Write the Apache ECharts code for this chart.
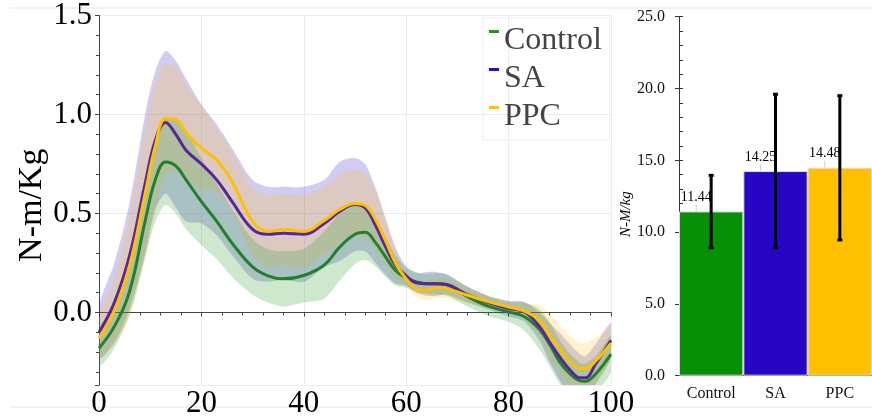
<!DOCTYPE html>
<html>
<head>
<meta charset="utf-8">
<script src="https://cdn.jsdelivr.net/npm/echarts@6/dist/echarts.min.js"></script>
<style>
html,body{margin:0;padding:0;background:#fff}
#chart{width:872px;height:419px}
</style>
</head>
<body>
<div id="chart"></div>
<script>
// gait cycle (%) sample points
var xs = [0,3,6,9,11,13,15,17,20,23,26,30,33,36,40,44,47,50,52,54,56,58,60,62,64,66,68,72,76,80,83,86,88,90,92,94,95,97,100];

var controlMean = [-0.18,-0.07,0.11,0.46,0.67,0.76,0.74,0.67,0.56,0.46,0.35,0.23,0.185,0.17,0.187,0.24,0.33,0.395,0.405,0.353,0.28,0.21,0.175,0.155,0.145,0.145,0.14,0.08,0.032,0.003,-0.02,-0.085,-0.16,-0.25,-0.31,-0.345,-0.347,-0.31,-0.21];
var controlSd = [0.09,0.11,0.12,0.19,0.21,0.217,0.24,0.25,0.22,0.19,0.17,0.14,0.135,0.14,0.135,0.17,0.17,0.15,0.14,0.12,0.1,0.075,0.05,0.05,0.05,0.055,0.055,0.05,0.05,0.05,0.07,0.1,0.11,0.11,0.1,0.09,0.09,0.09,0.09];

var saMean = [-0.10,0.05,0.29,0.65,0.87,0.96,0.90,0.82,0.75,0.67,0.56,0.42,0.395,0.40,0.395,0.45,0.51,0.545,0.528,0.44,0.33,0.235,0.185,0.15,0.145,0.145,0.14,0.09,0.05,0.02,0.005,-0.07,-0.15,-0.225,-0.29,-0.33,-0.33,-0.26,-0.14];
var saSd = [0.13,0.2,0.27,0.35,0.35,0.36,0.37,0.36,0.30,0.28,0.27,0.25,0.24,0.235,0.24,0.22,0.25,0.235,0.22,0.19,0.14,0.09,0.05,0.05,0.06,0.06,0.05,0.04,0.035,0.04,0.05,0.07,0.1,0.12,0.13,0.12,0.11,0.1,0.085];

var ppcMean = [-0.13,0.01,0.24,0.60,0.84,0.98,0.975,0.91,0.83,0.77,0.66,0.46,0.41,0.42,0.41,0.465,0.52,0.55,0.54,0.47,0.36,0.245,0.17,0.12,0.112,0.125,0.12,0.087,0.055,0.028,0.008,-0.04,-0.115,-0.185,-0.25,-0.283,-0.283,-0.245,-0.155];
var ppcSd = [0.1,0.17,0.25,0.32,0.32,0.28,0.26,0.24,0.21,0.16,0.15,0.17,0.18,0.18,0.185,0.17,0.175,0.17,0.16,0.15,0.12,0.07,0.035,0.04,0.05,0.05,0.05,0.04,0.03,0.03,0.04,0.075,0.11,0.12,0.13,0.13,0.13,0.12,0.075];

// bar panel
var groups = ["Control","SA","PPC"];
var barValues = [11.44,14.25,14.48];
var errLow = [8.91,8.91,9.45];
var errHigh = [13.95,19.6,19.5];

var barColors = ["#078f07","#2706c3","#ffc000"];
var font = "Liberation Serif";

function pairs(a){ return xs.map(function(x,i){ return [x,a[i]]; }); }

// shaded mean +/- sd region, drawn as one polygon through the axis scales
function band(name, mean, sd, color){
    return {
        name:name, type:"custom", xAxisIndex:0, yAxisIndex:0, clip:true, silent:true, z:1,
        data:[[0,0]],
        renderItem:function(params, api){
            var pts = [], i;
            for(i=0;i<xs.length;i++) pts.push(api.coord([xs[i], mean[i]+sd[i]]));
            for(i=xs.length-1;i>=0;i--) pts.push(api.coord([xs[i], mean[i]-sd[i]]));
            return {type:"polygon", shape:{points:pts, smooth:0.3}, style:{fill:color}};
        }
    };
}

function meanLine(name, mean, color){
    return {name:name, type:"line", data:pairs(mean), smooth:0.4, symbol:"none",
        lineStyle:{color:color, width:3}, itemStyle:{color:color}, z:3};
}

var series = [
    band("bandSA", saMean, saSd, "rgba(43,15,196,0.21)"),
    band("bandPPC", ppcMean, ppcSd, "rgba(255,192,0,0.2)"),
    band("bandControl", controlMean, controlSd, "rgba(44,160,44,0.24)"),
    meanLine("Control", controlMean, "#23802a"),
    meanLine("SA", saMean, "#55279c"),
    meanLine("PPC", ppcMean, "#ffc000")
];

series.push({
    type:"bar", xAxisIndex:1, yAxisIndex:1, barWidth:"100%",
    data: barValues.map(function(v,i){ return {value:v, itemStyle:{color:barColors[i]}}; }),
    itemStyle:{borderColor:"#dcdcdc", borderWidth:1},
    label:{show:true, position:"top", distance:5, fontFamily:font, fontSize:14, color:"#000",
        formatter:function(p){ return p.value.toFixed(2); }},
    labelLayout:{dx:-15, dy:-2},
    labelLine:{show:true, lineStyle:{color:"#d0d0d0", width:1}},
    z:2
});

series.push({
    type:"custom", xAxisIndex:1, yAxisIndex:1, z:5,
    data: groups.map(function(g,i){ return [i, errLow[i], errHigh[i]]; }),
    renderItem:function(params, api){
        var lo = api.coord([api.value(0), api.value(1)]);
        var hi = api.coord([api.value(0), api.value(2)]);
        var w = 2.5, st = {stroke:"#000", lineWidth:3};
        return {type:"group", children:[
            {type:"line", shape:{x1:lo[0],y1:lo[1],x2:hi[0],y2:hi[1]}, style:st},
            {type:"line", shape:{x1:lo[0]-w,y1:lo[1],x2:lo[0]+w,y2:lo[1]}, style:st},
            {type:"line", shape:{x1:hi[0]-w,y1:hi[1],x2:hi[0]+w,y2:hi[1]}, style:st}
        ]};
    }
});

var myChart = echarts.init(document.getElementById("chart"));
myChart.setOption({
    animation:false,
    backgroundColor:"#fff",
    graphic:[
        {type:"line", shape:{x1:10,y1:8,x2:872,y2:8}, style:{stroke:"#e6e6e6", lineWidth:1}, silent:true},
        {type:"line", shape:{x1:10,y1:407,x2:872,y2:407}, style:{stroke:"#e6e6e6", lineWidth:1}, silent:true}
    ],
    legend:{
        data:[
            {name:"Control", itemStyle:{color:"#1a9a1a"}},
            {name:"SA", itemStyle:{color:"#2b0fc4"}},
            {name:"PPC", itemStyle:{color:"#ffc000"}}
        ],
        orient:"vertical", left:483, top:18, align:"left",
        icon:"path://M0,0H10V3H0Z M0,22H0.01V22.01H0Z",
        itemWidth:10, itemHeight:22, itemGap:6,
        padding:[7,8,7,6], borderColor:"#eeeeee", borderWidth:1,
        textStyle:{fontFamily:font, fontSize:32, color:"#444", lineHeight:32},
        selectedMode:false
    },
    grid:[
        {left:99, top:13, right:261, bottom:32},
        {left:679, top:16.7, right:-9.5, bottom:43.3}
    ],
    xAxis:[
        {type:"value", gridIndex:0, min:0, max:100, interval:20,
         axisLine:{show:true, lineStyle:{color:"#444"}},
         axisTick:{show:true, length:4, lineStyle:{color:"#444"}},
         minorTick:{show:true, splitNumber:5, length:3, lineStyle:{color:"#444"}},
         splitLine:{show:true, lineStyle:{color:"#ececec"}},
         axisLabel:{fontFamily:font, fontSize:31, color:"#000", margin:3}},
        {type:"category", gridIndex:1, data:groups,
         axisLine:{show:true, lineStyle:{color:"#333"}},
         axisTick:{show:false},
         axisLabel:{fontFamily:font, fontSize:16, color:"#111", margin:10}}
    ],
    yAxis:[
        {type:"value", gridIndex:0, min:-0.366, max:1.5, splitNumber:4,
         axisLine:{show:true, lineStyle:{color:"#444"}},
         axisTick:{show:true, length:4, lineStyle:{color:"#444"}},
         minorTick:{show:true, splitNumber:5, length:3, lineStyle:{color:"#444"}},
         splitLine:{show:true, lineStyle:{color:"#ececec"}},
         axisLabel:{fontFamily:font, fontSize:31, color:"#000", margin:7,
            formatter:function(v){ return Math.abs(v*2-Math.round(v*2))<1e-6 ? v.toFixed(1) : ""; }},
         name:"N-m/Kg", nameLocation:"middle", nameGap:50, nameMoveOverlap:false,
         nameTextStyle:{fontFamily:font, fontSize:34, color:"#000", padding:[0,10,0,0]}},
        {type:"value", gridIndex:1, position:"left", min:0, max:25, interval:5,
         axisLine:{show:true, lineStyle:{color:"#333"}},
         axisTick:{show:true, inside:true, length:4, lineStyle:{color:"#333"}},
         minorTick:{show:true, splitNumber:5, length:4, lineStyle:{color:"#333"}},
         splitLine:{show:false},
         axisLabel:{fontFamily:font, fontSize:16, color:"#111", margin:14,
            formatter:function(v){ return v.toFixed(1); }},
         name:"N-M/kg", nameLocation:"middle", nameGap:45, nameMoveOverlap:false,
         nameTextStyle:{fontFamily:font, fontSize:15, fontStyle:"italic", color:"#000", padding:[0,36,0,0]}},
        {type:"value", gridIndex:1, position:"left", offset:0, min:0, max:25, interval:5,
         axisLine:{show:false}, axisTick:{show:true, length:4, lineStyle:{color:"#333"}},
         axisLabel:{show:false}, splitLine:{show:false}}
    ],
    series:series
});
</script>
</body>
</html>
